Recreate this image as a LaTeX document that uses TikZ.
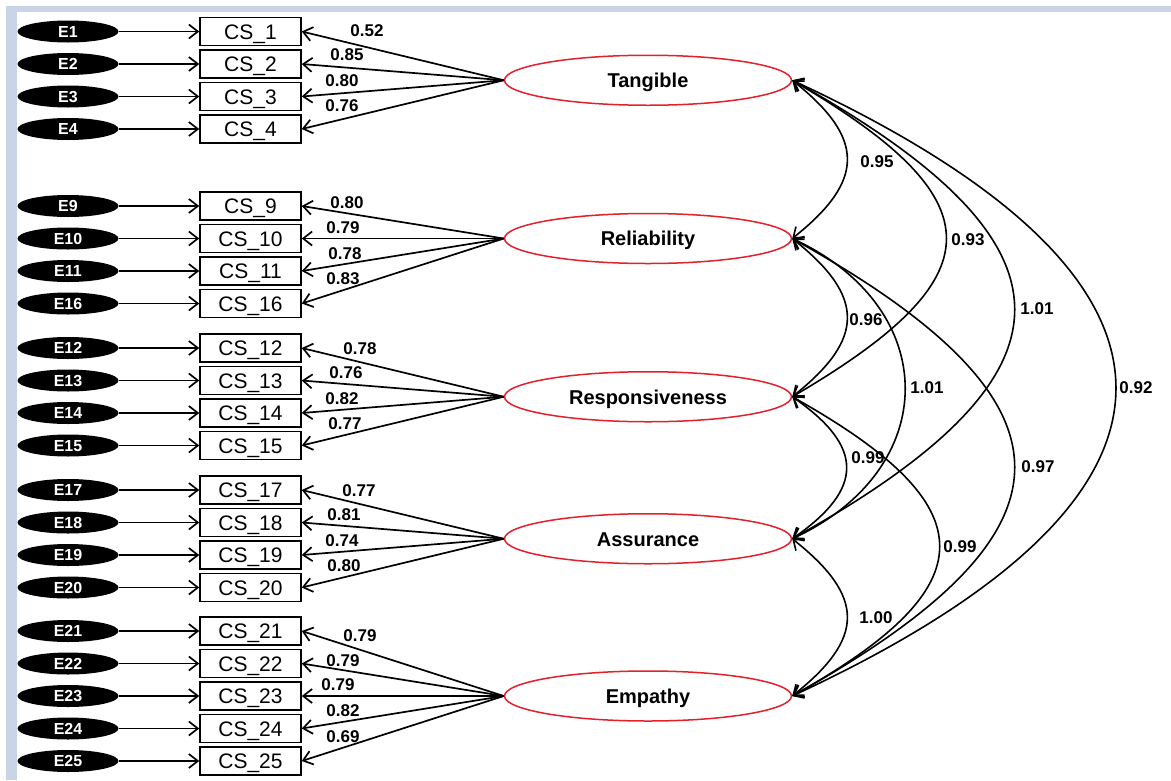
\documentclass[tikz,border=0pt]{standalone}
\usepackage{fontspec}
\setmainfont{Liberation Sans}
\usetikzlibrary{arrows.meta,shapes.geometric}
\definecolor{framebg}{HTML}{C9D5E6}
\definecolor{latentred}{HTML}{E4202C}
\begin{document}
\begin{tikzpicture}[x=1pt,y=-1pt,
  errnode/.style={ellipse, fill=black, minimum width=101pt, minimum height=22pt, inner sep=0pt,
    text=white, text height=11pt, text depth=0pt, font=\fontsize{16}{16}\selectfont\bfseries},
  itembox/.style={draw, line width=1.5pt, minimum width=101pt, minimum height=28pt, inner sep=0pt,
    text height=15pt, text depth=0pt, font=\fontsize{21}{21}\selectfont},
  latent/.style={ellipse, draw=latentred, line width=1.5pt, minimum width=287pt, minimum height=50pt,
    inner sep=0pt, text height=14.5pt, text depth=0pt, font=\fontsize{20}{20}\selectfont\bfseries},
  conn/.style={line width=1.7pt, -{Straight Barb[length=9pt,width=14pt]}},
  cov/.style={line width=1.6pt, {Straight Barb[length=9pt,width=14pt]}-{Straight Barb[length=9pt,width=14pt]}},
  coef/.style={inner sep=0pt, font=\fontsize{17}{17}\selectfont\bfseries}]

% canvas and frame
\useasboundingbox (0,0) rectangle (1171,780);
\fill[white] (0,0) rectangle (1171,780);
\fill[framebg] (6,6) rectangle (1171,780);
\fill[white] (17,12) rectangle (1171,780);

% latent factors
\node[latent] (T)  at (648,80.25)  {Tangible};
\node[latent] (Rl) at (648,238.5)  {Reliability};
\node[latent] (Rs) at (648,396.75) {Responsiveness};
\node[latent] (A)  at (648,538.75) {Assurance};
\node[latent] (Em) at (648,696)    {Empathy};

% observed items with their error terms
\foreach \i/\y in {1/31.5,2/64,3/96.5,4/129,
                   9/206,10/238.5,11/271,16/303.5,
                   12/348,13/380.5,14/413,15/445.5,
                   17/490,18/522.5,19/555,20/587.5,
                   21/631,22/663.5,23/696,24/728.5,25/761}{
  \node[itembox] (c\i) at (250.5,\y) {CS\_\i};
  \node[errnode] (e\i) at (68,\y) {E\i};
  \draw[conn] (e\i) -- (c\i);
}

% factor loadings
\foreach \f/\c/\lx/\ly/\v in {
    T/1/367/31/0.52, T/2/347/55/0.85, T/3/342/81/0.80, T/4/342/106/0.76,
    Rl/9/347/203/0.80, Rl/10/343/228/0.79, Rl/11/345/254/0.78, Rl/16/343/279/0.83,
    Rs/12/360/349/0.78, Rs/13/346/373/0.76, Rs/14/342/399/0.82, Rs/15/345/424/0.77,
    A/17/359/491/0.77, A/18/344/515/0.81, A/19/342/541/0.74, A/20/344/566/0.80,
    Em/21/360/636/0.79, Em/22/343/661/0.79, Em/23/338/685/0.79, Em/24/343/711/0.82, Em/25/343/737/0.69}{
  \draw[conn] (\f.west) -- (c\c.east);
  \node[coef] (l\c) at (\lx,\ly) {\v};
}

% factor covariances
\foreach \a/\b/\k/\s/\lx/\ly/\v/\n in {
    T/Rl/73/58/877/162/0.95/1,
    Rl/Rs/73/58/866/320/0.96/2,
    Rs/A/72/50/868/458/0.99/3,
    A/Em/73/58/876/618/1.00/4,
    T/Rs/205/120/968/240/0.93/5,
    Rl/A/150/70/927/388/1.01/6,
    T/A/296/165/1037/309/1.01/7,
    Rl/Em/296/165/1038/467/0.97/8,
    Rs/Em/196/110/960/547/0.99/9,
    T/Em/431/200/1136/388/0.92/10}{
  \draw[cov] (\a.east) .. controls +(\k,\s) and +(\k,-\s) .. (\b.east);
  \node[coef] (k\n) at (\lx,\ly) {\v};
}
\end{tikzpicture}
\end{document}
